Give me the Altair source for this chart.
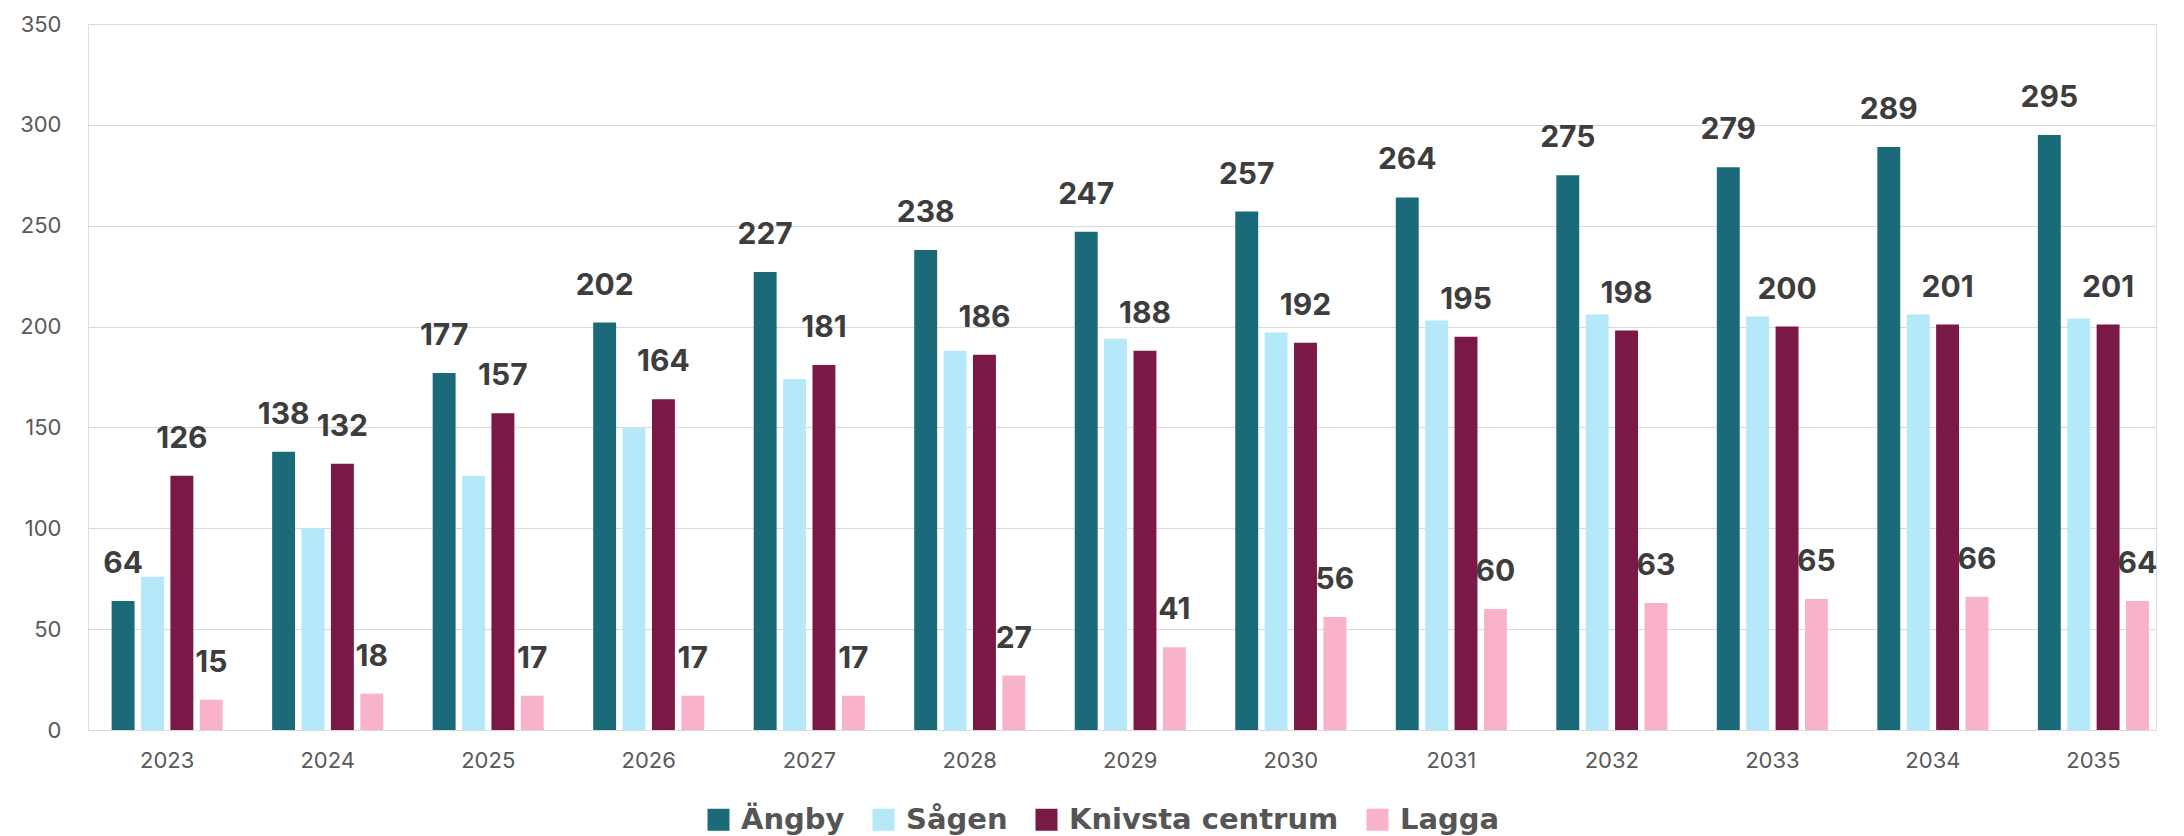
import altair as alt
import pandas as pd

years = ["2023", "2024", "2025", "2026", "2027", "2028", "2029", "2030", "2031", "2032", "2033", "2034", "2035"]
series = ["Ängby", "Sågen", "Knivsta centrum", "Lagga"]
angby = [64, 138, 177, 202, 227, 238, 247, 257, 264, 275, 279, 289, 295]
sagen = [76, 100, 126, 150, 174, 188, 194, 197, 203, 206, 205, 206, 204]
knivsta = [126, 132, 157, 164, 181, 186, 188, 192, 195, 198, 200, 201, 201]
lagga = [15, 18, 17, 17, 17, 27, 41, 56, 60, 63, 65, 66, 64]
labelled = ["Ängby", "Knivsta centrum", "Lagga"]
colors = ["#1B6A7A", "#B5E8F8", "#7A1846", "#F9B2CB"]
y_ticks = [0, 50, 100, 150, 200, 250, 300, 350]

rows = []
for name, vals in zip(series, [angby, sagen, knivsta, lagga]):
    for yr, v in zip(years, vals):
        rows.append({"year": yr, "series": name, "value": v})
df = pd.DataFrame(rows)

FONT = "Inter"

x_enc = alt.X(
    "year:N",
    sort=years,
    scale=alt.Scale(paddingInner=0.308, paddingOuter=0.0956, align=0.77),
    axis=alt.Axis(
        title=None, labelAngle=0, domain=False, ticks=False, labelPadding=20,
        labelFontSize=22, labelColor="#595959", labelFont=FONT, grid=False,
    ),
)
xoff_enc = alt.XOffset("series:N", sort=series,
                       scale=alt.Scale(domain=series, paddingInner=0.22, paddingOuter=0))
y_enc = alt.Y(
    "value:Q",
    scale=alt.Scale(domain=[0, 350], nice=False),
    axis=alt.Axis(
        title=None, values=y_ticks, domain=False, ticks=False, labelPadding=27,
        labelFontSize=22, labelColor="#595959", labelFont=FONT,
        gridColor="#D9D9D9", gridWidth=1, minExtent=72, maxExtent=72,
    ),
)

bars = alt.Chart(df).mark_bar().encode(
    x=x_enc,
    xOffset=xoff_enc,
    y=y_enc,
    color=alt.Color(
        "series:N",
        sort=series,
        scale=alt.Scale(domain=series, range=colors),
        legend=alt.Legend(
            title=None, orient="none", legendX=616, legendY=781, direction="horizontal",
            symbolType="square", symbolSize=484, symbolStrokeWidth=0, symbolOpacity=1,
            labelFontSize=29, labelFontWeight="bold", labelColor="#555555",
            labelFont="DejaVu Sans", labelOffset=8, columnPadding=24, labelLimit=600,
        ),
    ),
)

labels = alt.Chart(df).transform_filter(
    alt.FieldOneOfPredicate(field="series", oneOf=labelled)
).mark_text(
    fontSize=30, fontWeight="bold", color="#3D3D3D", font=FONT,
    baseline="alphabetic", dy=-28,
).encode(
    x=alt.X("year:N", sort=years),
    xOffset=alt.XOffset("series:N", sort=series),
    y=alt.Y("value:Q"),
    text=alt.Text("value:Q"),
)

chart = alt.layer(bars, labels).properties(
    width=2068,
    height=706,
    autosize=alt.AutoSizeParams(type="none"),
    padding={"left": 80, "top": 16, "right": 20, "bottom": 110},
).configure_view(stroke=None).configure(background="white")

chart.save("out.html", embed_options={"renderer": "svg", "actions": False})
